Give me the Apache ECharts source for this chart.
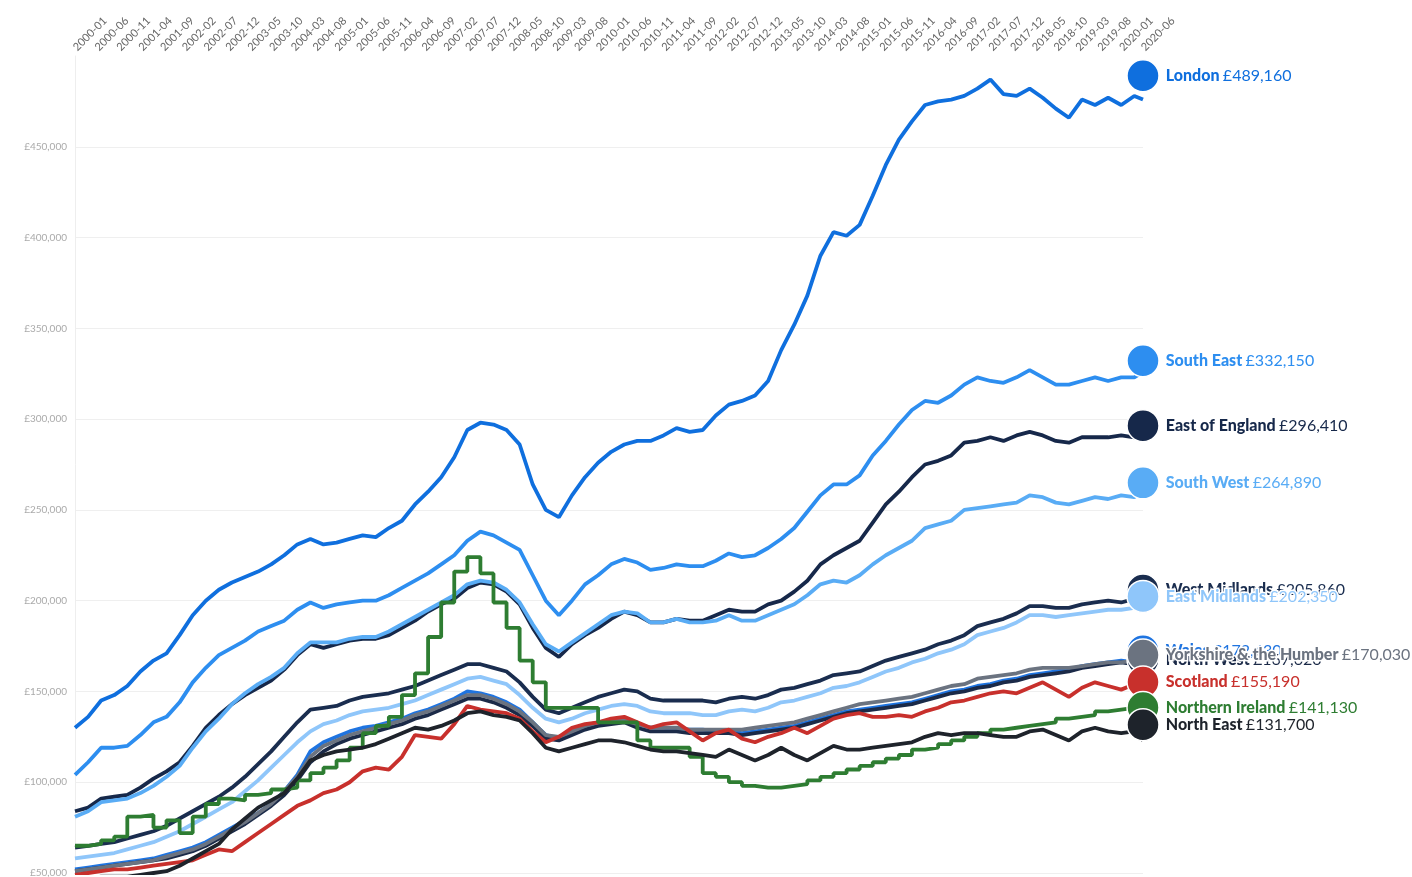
<!DOCTYPE html>
<html>
<head>
<meta charset="utf-8">
<title>Average house price by region</title>
<script src="https://cdn.jsdelivr.net/npm/echarts@6/dist/echarts.min.js"></script>
<style>
  html, body { margin: 0; padding: 0; background: #fff; }
  #chart { width: 1412px; height: 877px; }
</style>
</head>
<body>
<div id="chart"></div>
<script>
// monthly categories 2000-01 .. 2020-06
var months = [];
for (var y = 2000; y <= 2020; y++) {
    for (var m = 1; m <= 12; m++) {
        if (y === 2020 && m > 6) break;
        months.push(y + '-' + (m < 10 ? '0' + m : m));
    }
}
// values are read quarterly (every 3rd month) plus the last month
var sampleMonths = months.filter(function (d, i) { return i % 3 === 0; }).concat([months[months.length - 1]]);

// average prices, £ thousands
var london = [130,136,145,148,153,161,167,171,181,192, 200,206,210,213,216,220,225,231,234,231,
    232,234,236,235,240,244,253,260,268,279, 294,298,297,294,286,264,250,246,258,268,
    276,282,286,288,288,291,295,293,294,302, 308,310,313,321,338,352,368,390,403,401,
    407,423,440,454,464,473,475,476,478,482, 487,479,478,482,477,471,466,476,473,477,
    473,478, 476];
var southEast = [104,111,119,119,120,126,133,136,144,155, 163,170,174,178,183,186,189,195,199,196,
    198,199,200,200,203,207,211,215,220,225, 233,238,236,232,228,214,200,192,200,209,
    214,220,223,221,217,218,220,219,219,222, 226,224,225,229,234,240,249,258,264,264,
    269,280,288,297,305,310,309,313,319,323, 321,320,323,327,323,319,319,321,323,321,
    323,323, 326];
var eastOfEngland = [84,86,91,92,93,97,102,106,111,120, 130,137,143,148,152,156,162,170,176,174,
    176,178,179,179,181,185,189,194,198,201, 207,210,209,205,198,185,174,169,176,181,
    185,190,194,192,188,188,190,189,189,192, 195,194,194,198,200,205,211,220,225,229,
    233,243,253,260,268,275,277,280,287,288, 290,288,291,293,291,288,287,290,290,290,
    291,290, 293];
var southWest = [81,84,89,90,91,94,98,103,109,119, 128,135,143,149,154,158,163,171,177,177,
    177,179,180,180,183,187,191,195,199,203, 209,211,210,206,199,187,176,172,177,182,
    187,192,194,193,188,188,190,188,188,189, 192,189,189,192,195,198,203,209,211,210,
    214,220,225,229,233,240,242,244,250,251, 252,253,254,258,257,254,253,255,257,256,
    258,257, 260];
var westMidlands = [64,65,66,67,69,71,73,76,80,84, 88,92,97,103,110,117,125,133,140,141,
    142,145,147,148,149,151,153,156,159,162, 165,165,163,161,155,147,140,138,141,144,
    147,149,151,150,146,145,145,145,145,144, 146,147,146,148,151,152,154,156,159,160,
    161,164,167,169,171,173,176,178,181,186, 188,190,193,197,197,196,196,198,199,200,
    199,201, 200];
var eastMidlands = [58,59,60,61,63,65,67,70,73,77, 81,85,89,95,101,108,115,122,128,132,
    134,137,139,140,141,143,145,148,151,154, 157,158,156,154,148,141,135,133,135,138,
    140,142,143,142,139,138,138,138,137,137, 139,140,139,141,144,145,147,149,152,153,
    155,158,161,163,166,168,171,173,176,181, 183,185,188,192,192,191,192,193,194,195,
    195,196, 196];
var wales = [52,53,54,55,56,57,58,60,62,64, 67,71,75,79,83,88,95,104,117,122,
    125,128,130,131,133,135,138,140,143,146, 150,149,147,144,140,133,126,124,128,131,
    133,134,135,132,130,130,129,129,129,128, 128,127,128,129,130,131,133,135,137,139,
    140,141,142,143,144,146,148,150,151,153, 154,156,157,159,160,161,162,164,165,166,
    167,166, 160];
var northWest = [51,52,53,54,55,56,57,58,60,62, 65,69,73,77,82,87,93,101,111,117,
    121,124,126,128,130,132,135,137,140,143, 146,146,144,141,137,131,124,123,126,129,
    131,132,133,130,128,128,128,127,127,127, 127,126,127,128,129,130,132,134,136,138,
    139,140,141,142,143,145,147,149,150,152, 153,155,156,158,159,160,161,163,164,165,
    166,165, 162];
var yorkshire = [51,52,53,54,55,56,57,59,61,63, 66,70,74,78,83,88,95,103,114,120,
    123,126,128,130,132,134,137,139,142,145, 148,148,146,143,139,133,126,125,128,131,
    133,134,134,132,130,130,130,129,129,129, 129,129,130,131,132,133,135,137,139,141,
    143,144,145,146,147,149,151,153,154,157, 158,159,160,162,163,163,163,164,165,166,
    166,167, 166];
var scotland = [49,50,51,52,52,53,54,55,56,57, 60,63,62,67,72,77,82,87,90,94,
    96,100,106,108,107,114,126,125,124,132, 142,140,139,138,135,128,122,125,130,132,
    133,135,136,133,130,132,133,128,123,127, 129,124,122,125,127,130,127,131,135,137,
    138,136,136,137,136,139,141,144,145,147, 149,150,149,152,155,151,147,152,155,153,
    151,154, 152];
var northernIreland = [65,66,68,70,81,82,75,79,72,81, 88,91,90,93,94,96,97,101,105,108,
    112,119,127,131,136,148,160,180,199,216, 224,215,199,185,167,155,141,141,141,141,
    133,133,133,123,119,119,119,114,105,103, 100,98,97,97,98,99,101,103,105,107,
    109,111,113,115,118,119,121,123,125,127, 129,130,131,132,133,135,136,137,139,140,
    141,141, 141];
var northEast = [47,47,48,48,48,49,50,51,54,58, 62,66,74,80,86,90,94,102,112,115,
    117,118,119,121,124,127,130,129,131,134, 138,139,137,136,134,127,119,117,119,121,
    123,123,122,120,118,117,117,116,115,114, 118,115,112,115,119,115,112,116,120,118,
    118,119,120,121,122,125,127,126,127,127, 126,125,125,128,129,126,123,128,130,128,
    127,128, 123];

var regions = ['London', 'South East', 'East of England', 'South West', 'West Midlands', 'East Midlands',
    'Wales', 'North West', 'Yorkshire & the Humber', 'Scotland', 'Northern Ireland', 'North East'];
var regionValues = [london, southEast, eastOfEngland, southWest, westMidlands, eastMidlands,
    wales, northWest, yorkshire, scotland, northernIreland, northEast];
// latest price shown in the end labels, £ thousands
var latest = [489.16, 332.15, 296.41, 264.89, 205.86, 202.35, 172.43, 167.62, 170.03, 155.19, 141.13, 131.70];
var yTicks = [50, 500, 50]; // min, max, step

var colors = ['#0f6fde', '#2d8ef0', '#16284a', '#59acf5', '#1a2d4f', '#8fc6fa',
    '#1f74e0', '#1b2a48', '#6b7380', '#c8302c', '#2e7d32', '#1e232b'];

function money(v) {
    return '£' + Math.round(v * 1000).toLocaleString('en-GB');
}

var series = [];
regions.forEach(function (name, k) {
    series.push({
        name: name,
        type: 'line',
        step: name === 'Northern Ireland' ? 'end' : false,
        showSymbol: false,
        symbol: 'none',
        data: sampleMonths.map(function (mo, i) { return [mo, regionValues[k][i]]; }),
        lineStyle: { width: 3.8, color: colors[k] },
        itemStyle: { color: colors[k] },
        z: 2
    });
});
// end dots + labels; later regions sit on top, as in the original
regions.forEach(function (name, k) {
    series.push({
        name: name + ' latest',
        type: 'scatter',
        symbolSize: 32,
        data: [[months[months.length - 1], latest[k]]],
        itemStyle: { color: colors[k], borderColor: '#fff', borderWidth: 1.5, opacity: 1 },
        label: {
            show: true,
            position: 'right',
            distance: 6,
            formatter: '{n|' + name + '} {v|' + money(latest[k]) + '}',
            textBorderColor: '#fff',
            textBorderWidth: 3,
            rich: {
                n: { fontFamily: 'Lato', fontWeight: 900, fontSize: 16, color: colors[k],
                     textBorderColor: '#fff', textBorderWidth: 3 },
                v: { fontFamily: 'Lato', fontSize: 16, color: colors[k],
                     textBorderColor: '#fff', textBorderWidth: 3 }
            }
        },
        z: 10 + k
    });
});

var chart = echarts.init(document.getElementById('chart'));
chart.setOption({
    animation: false,
    backgroundColor: '#fff',
    grid: { left: 75, right: 269, top: 56, bottom: 4, outerBoundsMode: 'none' },
    xAxis: {
        type: 'category',
        position: 'top',
        data: months,
        boundaryGap: false,
        axisLine: { show: false },
        axisTick: { show: false },
        splitLine: { show: false },
        axisLabel: {
            interval: 4,
            rotate: -45,
            margin: 7,
            fontSize: 11,
            color: '#666',
            fontFamily: 'Lato'
        }
    },
    yAxis: {
        type: 'value',
        min: yTicks[0],
        max: yTicks[1],
        interval: yTicks[2],
        axisLine: { show: true, lineStyle: { color: '#eeeeee', width: 1 } },
        axisTick: { show: false },
        splitLine: { show: true, showMaxLine: false, lineStyle: { color: '#efefef', width: 1 } },
        axisLabel: {
            showMaxLabel: false,
            margin: 8,
            fontSize: 10,
            color: '#aaa',
            fontFamily: 'Lato',
            formatter: function (v) { return money(v); }
        }
    },
    series: series
});
</script>
</body>
</html>
